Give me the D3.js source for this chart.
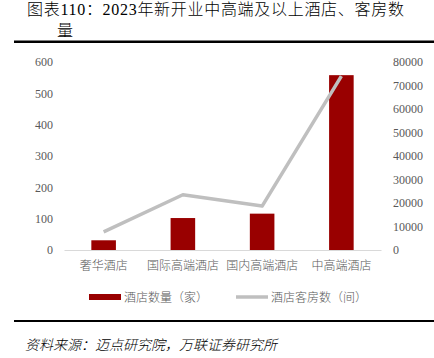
<!DOCTYPE html>
<html>
<head>
<meta charset="utf-8">
<script src="https://cdn.jsdelivr.net/npm/d3@7"></script>
<style>
  body { margin: 0; background: #fff; }
  svg { display: block; }
</style>
</head>
<body>
<svg id="chart" width="434" height="358"></svg>
<script>
// chart data
let categories = ["奢华酒店", "国际高端酒店", "国内高端酒店", "中高端酒店"];
let hotelCounts = [31, 102, 116, 558];
let roomCounts = [7700, 23500, 18700, 74000];
let leftTicks = [0, 100, 200, 300, 400, 500, 600];
let rightTicks = [0, 10000, 20000, 30000, 40000, 50000, 60000, 70000, 80000];

let serif = "'Liberation Serif','Times New Roman','Noto Sans CJK SC',serif";
let cjk = "'Noto Sans CJK SC',sans-serif";

let margin = { top: 62, left: 64, right: 53, bottom: 108 },
    width = 434 - margin.left - margin.right,
    height = 358 - margin.top - margin.bottom;

let svg = d3.select("#chart");

// title + rules
svg.append("text")
    .attr("x", 27).attr("y", 15)
    .style("font-family", serif).style("font-size", "16px").style("font-weight", 300)
    .style("letter-spacing", "0.7px").attr("fill", "#000")
    .text("图表110：2023年新开业中高端及以上酒店、客房数");
svg.append("text")
    .attr("x", 57).attr("y", 36)
    .style("font-family", serif).style("font-size", "16px").style("font-weight", 300).attr("fill", "#000")
    .text("量");
svg.append("rect").attr("x", 14).attr("y", 40.5).attr("width", 420).attr("height", 2.5).attr("fill", "#000");
svg.append("rect").attr("x", 14).attr("y", 320).attr("width", 420).attr("height", 2).attr("fill", "#000");
svg.append("text")
    .attr("x", 25).attr("y", 350)
    .style("font-family", cjk).style("font-size", "14px").style("font-style", "italic").style("font-weight", 300).attr("fill", "#000")
    .text("资料来源：迈点研究院，万联证券研究所");

let chart = svg.append("g")
    .attr("transform", "translate(" + margin.left + "," + margin.top + ")");

let x = d3.scaleBand().domain(categories).range([0, width]).paddingInner(0.69).paddingOuter(0.345);
let y = d3.scaleLinear().domain([0, 600]).range([height, 0]);
let y2 = d3.scaleLinear().domain([0, 80000]).range([height, 0]);

// left axis
let yAxis = d3.axisLeft(y).tickValues(leftTicks).tickSize(0).tickPadding(11);
let gy = chart.append("g").call(yAxis);
gy.select(".domain").remove();
gy.selectAll("text").style("font-family", serif).style("font-size", "12px").attr("fill", "#595959");

// right axis
let yAxis2 = d3.axisRight(y2).tickValues(rightTicks).tickFormat(d3.format("d")).tickSize(0).tickPadding(12);
let gy2 = chart.append("g").attr("transform", "translate(" + width + ",0)").call(yAxis2);
gy2.select(".domain").remove();
gy2.selectAll("text").style("font-family", serif).style("font-size", "12px").attr("fill", "#595959");

// bars
chart.selectAll(".bar")
    .data(hotelCounts)
    .enter().append("rect")
    .attr("class", "bar")
    .attr("x", (d, i) => x(categories[i]))
    .attr("y", d => y(d))
    .attr("width", x.bandwidth())
    .attr("height", d => height - y(d))
    .attr("fill", "#990000");

// x axis baseline + labels
let xAxis = d3.axisBottom(x).tickSize(0).tickPadding(11);
let gx = chart.append("g").attr("transform", "translate(0," + height + ")").call(xAxis);
gx.select(".domain").attr("stroke", "#D9D9D9").attr("stroke-width", 1);
gx.selectAll("text").style("font-family", cjk).style("font-size", "12px").style("font-weight", 300).attr("fill", "#595959");

// line
let line = d3.line()
    .x((d, i) => x(categories[i]) + x.bandwidth() / 2)
    .y(d => y2(d));
chart.append("path")
    .datum(roomCounts)
    .attr("d", line)
    .attr("fill", "none")
    .attr("stroke", "#BFBFBF")
    .attr("stroke-width", 3.5)
    .attr("stroke-linejoin", "round");

// legend
let legend = svg.append("g").attr("transform", "translate(0,297)");
legend.append("rect").attr("x", 89).attr("y", -3).attr("width", 32).attr("height", 6).attr("fill", "#990000");
legend.append("text").attr("x", 124).attr("y", 4.5)
    .style("font-family", cjk).style("font-size", "12px").style("font-weight", 300).attr("fill", "#595959")
    .text("酒店数量（家）");
legend.append("line").attr("x1", 236).attr("x2", 268).attr("y1", 0).attr("y2", 0)
    .attr("stroke", "#BFBFBF").attr("stroke-width", 3.5);
legend.append("text").attr("x", 271).attr("y", 4.5)
    .style("font-family", cjk).style("font-size", "12px").style("font-weight", 300).attr("fill", "#595959")
    .text("酒店客房数（间）");
</script>
</body>
</html>
